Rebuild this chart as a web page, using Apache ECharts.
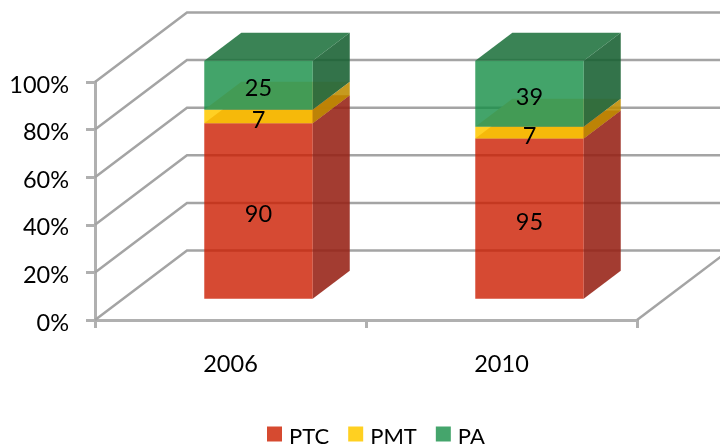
<!DOCTYPE html>
<html>
<head>
<meta charset="utf-8">
<style>
  html, body { margin: 0; padding: 0; background: #fff; }
  #chart { width: 720px; height: 448px; }
</style>
</head>
<body>
<div id="chart"></div>
<script src="https://cdn.jsdelivr.net/npm/echarts@6/dist/echarts.min.js"></script>
<script>
const categories = ["2006", "2010"];
const ptc = [90, 95];
const pmt = [7, 7];
const pa = [25, 39];
const yTicks = [0, 20, 40, 60, 80, 100];

const fontFamily = "Lato, 'Open Sans', sans-serif";
const fontSize = 23.5;
const wallColor = "#a4a4a4";
const axisColor = "#b0b0b0";
// wall depth in pixels, the fake 3D is a plain shear of the 2D grid
const wallDx = 92;
const wallDy = 69.5;
// bar position in the depth, 0 is front and 1 is back wall
const barFront = 0.304;
const barBack = 0.707;
const barBand = 0.4;

const layers = [
  { name: "PTC", values: ptc, below: [], legend: "#d64a30", front: "rgb(204,29,0)", frontOpacity: 0.8, top: "rgb(170,45,25)", side: "rgb(150,33,20)", topOpacity: 0.88 },
  { name: "PMT", values: pmt, below: [ptc], legend: "#ffd021", front: "rgb(255,202,4)", frontOpacity: 0.88, top: "rgb(255,210,150)", side: "rgb(190,140,0)", topOpacity: 1 },
  { name: "PA", values: pa, below: [ptc, pmt], legend: "#45a56c", front: "rgb(20,141,69)", frontOpacity: 0.8, top: "rgb(31,114,61)", side: "rgb(23,96,49)", topOpacity: 0.88 },
];

function total(i) {
  return ptc[i] + pmt[i] + pa[i];
}

function renderWall(params, api) {
  const v = api.value(0);
  const p = api.coord([0, v]);
  const band = api.size([1, 0])[0];
  const left = p[0] - band / 2;
  const right = left + band * categories.length;
  const line = (points) => ({
    type: "polyline",
    shape: { points },
    style: { stroke: wallColor, lineWidth: 2.5, fill: null },
  });
  const children = [
    line([
      [left, p[1]],
      [left + wallDx, p[1] - wallDy],
      [right + wallDx, p[1] - wallDy],
    ]),
  ];
  // 地板右边那条斜线
  if (v === 0) {
    children.push(line([[right, p[1]], [right + wallDx, p[1] - wallDy]]));
  }
  return { type: "group", children };
}

function makeBarRenderer(layer) {
  return function (params, api) {
    const i = params.dataIndex;
    const base = layer.below.reduce((s, arr) => s + arr[i], 0);
    const low = api.coord([i, (base / total(i)) * 100]);
    const high = api.coord([i, ((base + api.value(1)) / total(i)) * 100]);
    const w = (api.size([1, 0])[0] * barBand) / 2;

    const fx = wallDx * barFront;
    const fy = wallDy * barFront;
    const bx = wallDx * barBack;
    const by = wallDy * barBack;
    const x0 = low[0] - w + fx;
    const x1 = low[0] + w + fx;
    const xb = low[0] + w + bx;
    const xl = low[0] - w + bx;
    const yLow = low[1] - fy;
    const yHigh = high[1] - fy;
    const yLowB = low[1] - by;
    const yHighB = high[1] - by;

    const face = (points, fill, opacity) => ({
      type: "polygon",
      shape: { points },
      style: { fill, opacity },
    });
    return {
      type: "group",
      children: [
        face([[x1, yLow], [xb, yLowB], [xb, yHighB], [x1, yHigh]], layer.side, 0.88),
        face([[x0, yHigh], [x1, yHigh], [xb, yHighB], [xl, yHighB]], layer.top, layer.topOpacity),
        face([[x0, yLow], [x1, yLow], [x1, yHigh], [x0, yHigh]], layer.front, layer.frontOpacity),
        {
          type: "text",
          z2: 10,
          x: (x0 + x1) / 2,
          y: (yLow + yHigh) / 2 + 3.5,
          style: {
            text: String(api.value(1)),
            fill: "#000",
            font: fontSize + "px " + fontFamily,
            align: "center",
            verticalAlign: "middle",
          },
        },
      ],
    };
  };
}

const chart = echarts.init(document.getElementById("chart"), null, { renderer: "canvas" });

chart.setOption({
  animation: false,
  backgroundColor: "#fff",
  grid: { left: 95, right: 83, top: 82, bottom: 128 },
  legend: {
    left: 267,
    top: 426,
    padding: 0,
    data: layers.map((l) => l.name),
    icon: "rect",
    itemWidth: 15,
    itemHeight: 15,
    itemGap: 19,
    formatter: "{t|{name}}",
    textStyle: {
      color: "#000",
      fontFamily,
      fontSize: 22,
      rich: { t: { color: "#000", fontFamily, fontSize: 22, padding: [6, 0, 0, 2] } },
    },
  },
  xAxis: {
    type: "category",
    data: categories,
    axisLine: { lineStyle: { color: axisColor, width: 3 } },
    axisTick: { show: true, length: 8, alignWithLabel: false, lineStyle: { color: axisColor, width: 3 } },
    axisLabel: { color: "#000", fontFamily, fontSize, margin: 32 },
  },
  yAxis: {
    type: "value",
    min: 0,
    max: 100,
    interval: 20,
    axisLine: { show: true, lineStyle: { color: axisColor, width: 3 } },
    axisTick: { show: true, length: 9, lineStyle: { color: axisColor, width: 3 } },
    axisLabel: {
      margin: 26,
      formatter: "{v|{value}%}",
      rich: { v: { color: "#000", fontFamily, fontSize, padding: [6, 0, 0, 0] } },
    },
    splitLine: { show: false },
  },
  series: [
    {
      type: "custom",
      name: "wall",
      silent: true,
      renderItem: renderWall,
      encode: { y: 0 },
      data: yTicks.map((v) => [v]),
    },
    ...layers.map((layer) => ({
      type: "custom",
      name: layer.name,
      itemStyle: { color: layer.legend },
      renderItem: makeBarRenderer(layer),
      encode: { x: 0, y: 1 },
      data: layer.values.map((v, i) => [i, v]),
    })),
  ],
});
</script>
</body>
</html>
